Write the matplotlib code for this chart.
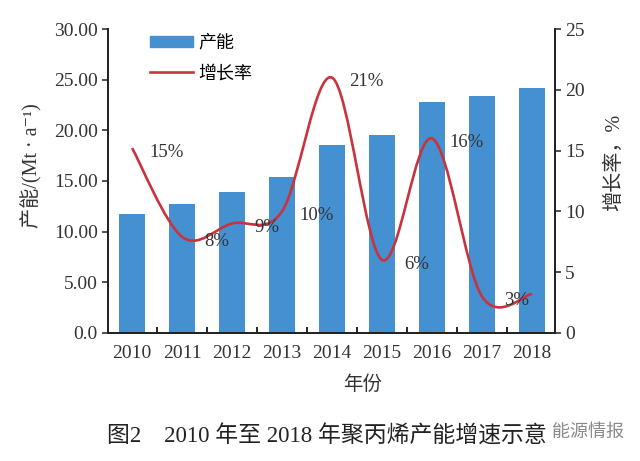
import matplotlib
matplotlib.use('Agg')
import matplotlib.pyplot as plt
from matplotlib.path import Path
from matplotlib.patches import PathPatch, Patch
from matplotlib.lines import Line2D
import numpy as np

plt.rcParams['font.family'] = ['Liberation Serif', 'Noto Sans CJK SC', 'DejaVu Serif']

years = ['2010', '2011', '2012', '2013', '2014', '2015', '2016', '2017', '2018']
capacity = [11.75, 12.76, 13.9, 15.4, 18.5, 19.55, 22.8, 23.4, 24.2]
growth = [15.2, 7.9, 9.0, 10.0, 21.0, 6.0, 16.0, 3.0, 3.2]
growth_labels = ['15%', '8%', '9%', '10%', '21%', '6%', '16%', '3%']

bar_color = '#4590d0'
line_color = '#c9333d'
text_color = '#333333'

fig = plt.figure(figsize=(6.4, 4.61), dpi=100)
ax = fig.add_axes([0.169, 0.278, 0.698, 0.659])
ax2 = ax.twinx()

x = np.arange(len(years))
ax.bar(x, capacity, width=0.52, color=bar_color, zorder=2)
ax.set_xlim(-0.48, 8.46)
ax.set_ylim(0, 30)
ax.set_yticks([0, 5, 10, 15, 20, 25, 30])
ax.set_yticklabels(['0.0', '5.00', '10.00', '15.00', '20.00', '25.00', '30.00'])
ax.set_xticks(x)
ax.set_xticklabels(years)
ax.set_xticks(np.arange(len(years) - 1) + 0.5, minor=True)
ax.tick_params(axis='x', which='major', length=0, pad=9, labelsize=14, colors=text_color)
ax.tick_params(axis='x', which='minor', direction='in', length=4, width=1.2)
ax.tick_params(axis='y', direction='out', length=4, width=1.2, labelsize=14, colors=text_color)
ax.set_ylabel('产能/(Mt · a⁻¹)', fontsize=14.5, color=text_color)
ax.yaxis.set_label_coords(-0.148, 0.55)
ax.set_xlabel('年份', fontsize=14, color=text_color)
ax.xaxis.set_label_coords(0.57, -0.14)

# smoothed growth line (Catmull-Rom as cubic Bezier)
pts = np.column_stack([x, growth]).astype(float)
ext = np.vstack([pts[0], pts, pts[-1]])
verts = [tuple(pts[0])]
codes = [Path.MOVETO]
for i in range(len(pts) - 1):
    p0, p1, p2, p3 = ext[i], ext[i + 1], ext[i + 2], ext[i + 3]
    c1 = p1 + (p2 - p0) / 6
    c2 = p2 - (p3 - p1) / 6
    verts += [tuple(c1), tuple(c2), tuple(p2)]
    codes += [Path.CURVE4] * 3
ax2.add_patch(PathPatch(Path(verts, codes), fill=False, edgecolor=line_color,
                        lw=1.9, zorder=3))
for xi, g, lab in zip(x, growth, growth_labels):
    ax2.annotate(lab, (xi, g), xytext=(25, -3), textcoords='offset points',
                 ha='center', va='center', fontsize=13.5, color=text_color)

ax2.set_ylim(0, 25)
ax2.set_yticks([0, 5, 10, 15, 20, 25])
ax2.tick_params(axis='y', direction='out', length=4, width=1.2, labelsize=14, colors=text_color)
ax2.set_ylabel('增长率，%', fontsize=14.5, color=text_color, rotation=90)
ax2.yaxis.set_label_coords(1.112, 0.56)

for a in (ax, ax2):
    a.spines['top'].set_visible(False)
    for s in ('left', 'right', 'bottom'):
        a.spines[s].set_linewidth(1.3)
        a.spines[s].set_color('#222222')

handles = [Patch(color=bar_color), Line2D([], [], color=line_color, lw=1.9)]
ax.legend(handles, ['产能', '增长率'], loc='upper left', bbox_to_anchor=(0.057, 1.035),
          frameon=False, fontsize=13, handlelength=2.4, handletextpad=0.3,
          labelspacing=0.75, handleheight=0.55)

fig.text(0.51, 1 - 437 / 461, '图2　2010 年至 2018 年聚丙烯产能增速示意', ha='center',
         va='center', fontsize=16.5, color='#222222')
fig.text(0.918, 1 - 432 / 461, '能源情报', ha='center', va='center', fontsize=13,
         color='#8a8a8a', family=['Noto Sans CJK SC'])

fig.savefig('out.png', dpi=100)
